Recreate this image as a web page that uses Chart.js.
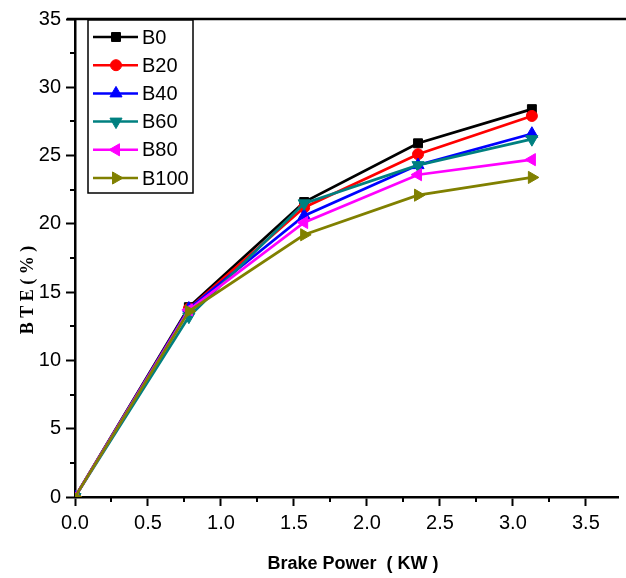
<!DOCTYPE html>
<html>
<head>
<meta charset="utf-8">
<script src="https://cdn.jsdelivr.net/npm/chart.js@4/dist/chart.umd.min.js"></script>
<style>
html,body{margin:0;padding:0;background:#fff;}
#wrap{width:626px;height:578px;position:relative;}
</style>
</head>
<body>
<div id="wrap"><canvas id="c" width="626" height="578"></canvas></div>
<script>
// ---- data ----
const brakePower = [0, 0.78, 1.57, 2.35, 3.13];
const seriesNames = ['B0', 'B20', 'B40', 'B60', 'B80', 'B100'];
const B0   = [0, 13.9, 21.6, 25.9, 28.4];
const B20  = [0, 13.8, 21.2, 25.1, 27.9];
const B40  = [0, 13.8, 20.6, 24.3, 26.6];
const B60  = [0, 13.2, 21.5, 24.3, 26.2];
const B80  = [0, 13.7, 20.1, 23.6, 24.7];
const B100 = [0, 13.6, 19.2, 22.1, 23.4];
const xTickValues = [0, 0.5, 1.0, 1.5, 2.0, 2.5, 3.0, 3.5];
const yTickValues = [0, 5, 10, 15, 20, 25, 30, 35];

const seriesValues = [B0, B20, B40, B60, B80, B100];
const colors = ['#000000', '#ff0000', '#0000ff', '#008080', '#ff00ff', '#808000'];
const pStyles = ['rect', 'circle', 'triangle', 'triangle', 'triangle', 'triangle'];
const pRot = [0, 0, 0, 180, 270, 90];
const pRad = [6.3, 5.5, 7, 7, 7, 7];

const SANS = "'Liberation Sans', Arial, sans-serif";

const datasets = seriesNames.map((n, i) => ({
  label: n,
  data: brakePower.map((x, k) => ({x: x, y: seriesValues[i][k]})),
  borderColor: colors[i],
  backgroundColor: colors[i],
  pointBackgroundColor: colors[i],
  pointBorderColor: colors[i],
  borderWidth: 2.7,
  pointStyle: pStyles[i],
  rotation: pRot[i],
  pointRadius: pRad[i],
  pointHoverRadius: pRad[i],
  pointBorderWidth: 1,
  tension: 0,
  order: seriesNames.length - 1 - i
}));

function isMajor(v, step) {
  return Math.abs(v / step - Math.round(v / step)) < 1e-6;
}

const decorPlugin = {
  id: 'decor',
  afterDraw(chart) {
    const ctx = chart.ctx;
    const ca = chart.chartArea;
    const xs = chart.scales.x, ys = chart.scales.y;
    ctx.save();
    // minor ticks
    ctx.strokeStyle = '#000';
    ctx.lineWidth = 2;
    xs.ticks.forEach(t => {
      if (!isMajor(t.value, 0.5)) {
        const px = Math.round(xs.getPixelForValue(t.value));
        ctx.beginPath(); ctx.moveTo(px, ca.bottom); ctx.lineTo(px, ca.bottom + 5); ctx.stroke();
      }
    });
    ys.ticks.forEach(t => {
      if (!isMajor(t.value, 5)) {
        const py = Math.round(ys.getPixelForValue(t.value));
        ctx.beginPath(); ctx.moveTo(ca.left, py); ctx.lineTo(ca.left - 5, py); ctx.stroke();
      }
    });
    // top frame line
    ctx.lineWidth = 2.5;
    ctx.beginPath(); ctx.moveTo(67, ca.top); ctx.lineTo(chart.width, ca.top); ctx.stroke();

    // axis titles
    ctx.fillStyle = '#000';
    ctx.font = "bold 18px " + SANS;
    ctx.textAlign = 'center';
    ctx.textBaseline = 'middle';
    ctx.fillText('Brake Power  ( KW )', 353, 564);
    ctx.save();
    ctx.translate(28, 290);
    ctx.rotate(-Math.PI / 2);
    ctx.font = "bold 18px 'Liberation Serif', serif";
    ctx.fillText('B T E ( % )', 0, 0);
    ctx.restore();

    // legend
    const bx = 88, by = 20, bw = 105, bh = 173;
    ctx.fillStyle = '#fff';
    ctx.fillRect(bx, by, bw, bh);
    ctx.strokeStyle = '#000';
    ctx.lineWidth = 1.5;
    ctx.strokeRect(bx, by, bw, bh);
    chart.data.datasets.forEach((ds, i) => {
      const y = 37 + 28.2 * i;
      ctx.strokeStyle = ds.borderColor;
      ctx.fillStyle = ds.borderColor;
      ctx.lineWidth = 2.5;
      ctx.beginPath(); ctx.moveTo(93, y); ctx.lineTo(138, y); ctx.stroke();
      ctx.lineWidth = 1;
      Chart.helpers.drawPoint(ctx, {pointStyle: ds.pointStyle, rotation: ds.rotation, radius: ds.pointRadius, borderWidth: 1}, 116, y);
      ctx.fillStyle = '#000';
      ctx.font = "20px " + SANS;
      ctx.textAlign = 'left';
      ctx.textBaseline = 'middle';
      ctx.fillText(ds.label, 142, y + 1);
    });
    ctx.restore();
  }
};

new Chart(document.getElementById('c'), {
  type: 'line',
  data: { datasets: datasets },
  options: {
    responsive: false,
    animation: false,
    devicePixelRatio: 1,
    layout: { padding: { top: 19, right: 0, left: 0, bottom: 0 } },
    plugins: { legend: { display: false }, tooltip: { enabled: false } },
    scales: {
      x: {
        type: 'linear',
        min: 0,
        max: 3.72,
        afterBuildTicks(scale) {
          const t = [];
          for (let k = 0; k <= 14; k++) t.push({ value: k * 0.25 });
          scale.ticks = t;
        },
        afterFit(scale) { scale.height = 81; },
        border: { display: true, color: '#000', width: 2.5 },
        grid: {
          display: true,
          drawOnChartArea: false,
          drawTicks: true,
          tickLength: 9,
          tickWidth: 2,
          tickColor: (c) => (c.tick && isMajor(c.tick.value, 0.5)) ? '#000' : 'rgba(0,0,0,0)'
        },
        ticks: {
          autoSkip: false,
          maxRotation: 0,
          color: '#000',
          padding: 5,
          font: { family: SANS, size: 20 },
          callback: (v) => xTickValues.some(x => Math.abs(x - v) < 1e-6) ? v.toFixed(1) : ''
        }
      },
      y: {
        type: 'linear',
        min: 0,
        max: 35,
        afterBuildTicks(scale) {
          const t = [];
          for (let k = 0; k <= 14; k++) t.push({ value: k * 2.5 });
          scale.ticks = t;
        },
        afterFit(scale) { scale.width = 75; },
        border: { display: true, color: '#000', width: 2.5 },
        grid: {
          display: true,
          drawOnChartArea: false,
          drawTicks: true,
          tickLength: 9,
          tickWidth: 2,
          tickColor: (c) => (c.tick && isMajor(c.tick.value, 5)) ? '#000' : 'rgba(0,0,0,0)'
        },
        ticks: {
          autoSkip: false,
          color: '#000',
          padding: 5,
          font: { family: SANS, size: 20 },
          callback: (v) => yTickValues.some(x => Math.abs(x - v) < 1e-6) ? String(v) : ''
        }
      }
    }
  },
  plugins: [decorPlugin]
});
</script>
</body>
</html>
